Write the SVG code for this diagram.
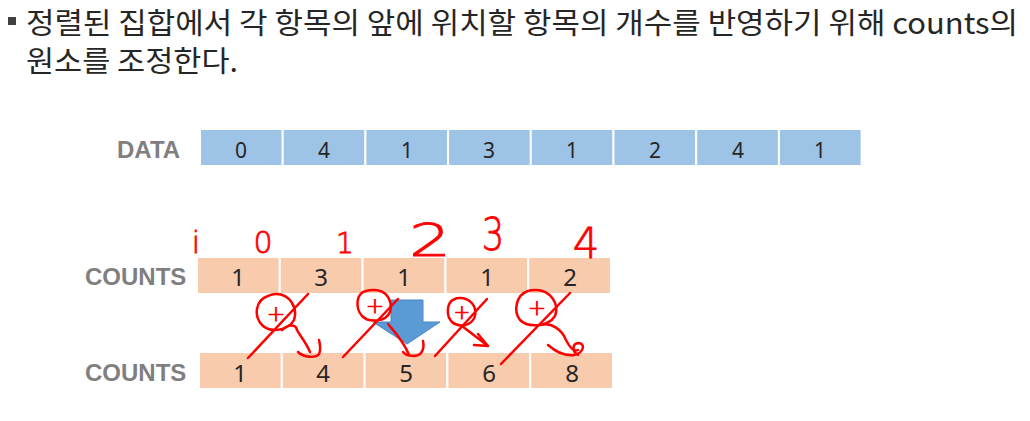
<svg xmlns="http://www.w3.org/2000/svg" width="1030" height="421" viewBox="0 0 1030 421">
<style>
.title{font-family:"Noto Sans CJK KR","Noto Sans",sans-serif;font-size:29px;fill:#262626}
.lbl{font-family:"Liberation Sans",Arial,sans-serif;font-weight:bold;font-size:24px;fill:#7f7f7f}
.dig{font-family:"Noto Sans","Liberation Sans",sans-serif;font-size:21px;fill:#262626;text-anchor:middle}
.dig2{font-family:"Noto Sans","Liberation Sans",sans-serif;font-size:24px;fill:#262626;text-anchor:middle}
.blue{fill:#9dc3e6;stroke:#fff;stroke-width:2}
.peach{fill:#f8cbad;stroke:#fff;stroke-width:2}
.ink{fill:none;stroke:#ff0000;stroke-width:2.5;stroke-linecap:round;stroke-linejoin:round}
.inkt{font-family:"DejaVu Sans","Liberation Sans",sans-serif;font-weight:200;fill:#ff0000;stroke:#ff0000;stroke-width:0.8;text-anchor:middle}
</style>
<rect width="1030" height="421" fill="#fff"/>
<g id="title">
<rect x="8" y="17" width="8" height="8" fill="#404040"/>
<text class="title" x="26" y="34" textLength="992" lengthAdjust="spacingAndGlyphs">정렬된 집합에서 각 항목의 앞에 위치할 항목의 개수를 반영하기 위해 counts의</text>
<text class="title" x="26" y="72" textLength="212" lengthAdjust="spacingAndGlyphs">원소를 조정한다.</text>
</g>
<g id="data">
<text class="lbl" x="117" y="158">DATA</text>
<rect class="blue" x="200" y="129" width="82.7" height="37"/>
<rect class="blue" x="282.7" y="129" width="82.7" height="37"/>
<rect class="blue" x="365.4" y="129" width="82.7" height="37"/>
<rect class="blue" x="448.1" y="129" width="82.7" height="37"/>
<rect class="blue" x="530.8" y="129" width="82.7" height="37"/>
<rect class="blue" x="613.5" y="129" width="82.7" height="37"/>
<rect class="blue" x="696.2" y="129" width="82.7" height="37"/>
<rect class="blue" x="778.9" y="129" width="82.7" height="37"/>
<text class="dig" x="241" y="158">0</text>
<text class="dig" x="324" y="158">4</text>
<text class="dig" x="407" y="158">1</text>
<text class="dig" x="489" y="158">3</text>
<text class="dig" x="572" y="158">1</text>
<text class="dig" x="655" y="158">2</text>
<text class="dig" x="738" y="158">4</text>
<text class="dig" x="820" y="158">1</text>
</g>
<g id="counts1">
<text class="lbl" x="85" y="285">COUNTS</text>
<rect class="peach" x="197" y="257" width="82.8" height="37"/>
<rect class="peach" x="279.8" y="257" width="82.8" height="37"/>
<rect class="peach" x="362.6" y="257" width="82.8" height="37"/>
<rect class="peach" x="445.4" y="257" width="82.8" height="37"/>
<rect class="peach" x="528.2" y="257" width="82.8" height="37"/>
<text class="dig2" x="238" y="286">1</text>
<text class="dig2" x="321" y="286">3</text>
<text class="dig2" x="404" y="286">1</text>
<text class="dig2" x="487" y="286">1</text>
<text class="dig2" x="570" y="286">2</text>
</g>
<g id="counts2">
<text class="lbl" x="85" y="381">COUNTS</text>
<rect class="peach" x="199" y="352" width="82.8" height="37"/>
<rect class="peach" x="281.8" y="352" width="82.8" height="37"/>
<rect class="peach" x="364.6" y="352" width="82.8" height="37"/>
<rect class="peach" x="447.4" y="352" width="82.8" height="37"/>
<rect class="peach" x="530.2" y="352" width="82.8" height="37"/>
<text class="dig2" x="240" y="382">1</text>
<text class="dig2" x="323" y="382">4</text>
<text class="dig2" x="406" y="382">5</text>
<text class="dig2" x="489" y="382">6</text>
<text class="dig2" x="572" y="382">8</text>
</g>
<g id="connectors">
<path d="M391,300 L423,300 L423,322 L440,322 L407,344 L373,322 L391,322 Z" fill="#5b9bd5" stroke="#4a86c0" stroke-width="1"/>
</g>
<g id="annotations">
<text class="inkt" x="196" y="253" font-size="30">i</text>
<text class="inkt" x="263" y="253" font-size="30">0</text>
<text class="inkt" x="345" y="253" font-size="28">1</text>
<text class="inkt" font-size="44" transform="translate(430,256) scale(1.5,1)">2</text>
<text class="inkt" font-size="44" transform="translate(493,250) scale(0.8,1)">3</text>
<text class="inkt" x="586" y="258" font-size="42">4</text>
<path class="ink" d="M268,296 C256,300 253,315 262,325 C270,333 288,331 294,320 C298,308 290,294 276,294 C272,294 270,295 268,296"/>
<path class="ink" d="M308,294 L248,358"/>
<path class="ink" d="M282,330 C288,324 296,324 297,330 C300,336 306,342 310,352 M298,352 C304,358 316,358 319,354 C321,350 320,344 319,340"/>
<path class="ink" d="M366,291 C356,293 355,308 362,316 C369,323 386,322 390,312 C393,300 386,290 374,290 C370,290 368,290 366,291"/>
<path class="ink" d="M398,299 L343,357"/>
<path class="ink" d="M388,324 C395,332 404,342 409,355 M403,352 C407,357 418,357 421,353 C424,349 424,345 423,341"/>
<path class="ink" d="M455,299 C446,302 446,316 452,322 C459,328 472,326 475,316 C477,306 470,298 460,298 C458,298 456,298 455,299"/>
<path class="ink" d="M487,299 L435,356"/>
<path class="ink" d="M462,326 L488,346 M478,334 L488,346 L474,345"/>
<path class="ink" d="M528,291 C516,295 513,311 520,320 C528,328 548,327 555,316 C560,304 550,290 536,290 C532,290 530,290 528,291"/>
<path class="ink" d="M570,293 L501,364"/>
<path class="ink" d="M540,325 C552,322 562,330 566,340 C570,348 574,352 578,350 M548,345 C556,352 566,356 574,355 C584,353 586,343 578,343 C572,344 572,352 578,355"/>
<text class="inkt" x="276" y="321" font-size="22">+</text>
<text class="inkt" x="375" y="313" font-size="22">+</text>
<text class="inkt" x="462" y="319" font-size="20">+</text>
<text class="inkt" x="537" y="315" font-size="22">+</text>
</g>
</svg>
